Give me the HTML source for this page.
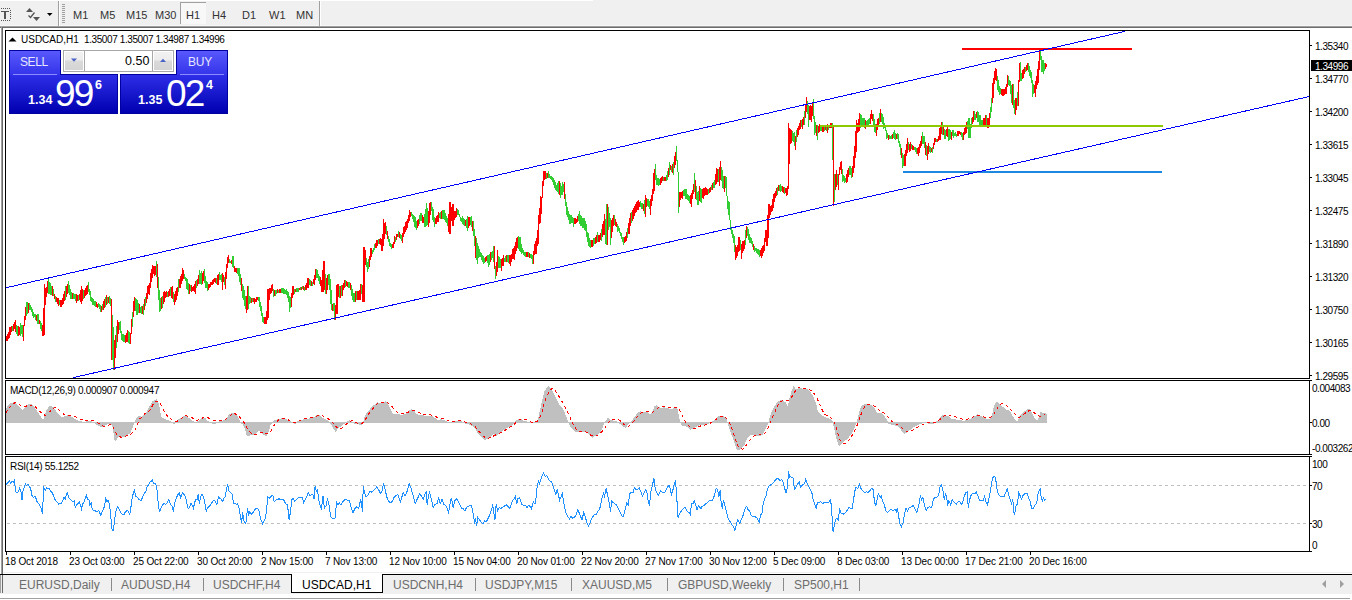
<!DOCTYPE html><html><head><meta charset="utf-8"><style>
*{margin:0;padding:0;box-sizing:border-box}
body{width:1352px;height:600px;overflow:hidden;background:#fff;position:relative;font-family:"Liberation Sans",sans-serif;color:#000}
.a{position:absolute;white-space:nowrap}
.tb{font-size:11px;color:#333}
.pl{font-size:10px;letter-spacing:-0.45px;left:1315px}
.tl{font-size:10px;letter-spacing:-0.15px;top:556px}
.tab{font-size:12px;color:#6d6d6d;top:578px}
.sep{position:absolute;width:1px;background:#8a8a8a}
</style></head><body>
<div class="a" style="left:0;top:0;width:1352px;height:26px;background:#f0f0f0"></div>
<div class="a" style="left:0;top:0;width:593px;height:1px;background:#fff"></div>
<div class="a" style="left:0;top:25px;width:1352px;height:1px;background:#f6f6f6"></div>
<div class="a" style="left:0;top:26px;width:1352px;height:1px;background:#a0a0a0"></div>
<div class="a" style="left:0;top:27px;width:1352px;height:1px;background:#6d6d6d"></div>
<div class="a" style="left:1px;top:27px;width:1px;height:547px;background:#a0a0a0"></div>
<div class="a" style="left:2px;top:27px;width:1px;height:547px;background:#696969"></div>
<svg class="a" style="left:0;top:0" width="60" height="26">
<g fill="#555"><rect x="1" y="8" width="1" height="1"/><rect x="3" y="8" width="1" height="1"/><rect x="5" y="8" width="1" height="1"/><rect x="7" y="8" width="1" height="1"/><rect x="9" y="8" width="1" height="1"/>
<rect x="1" y="20" width="1" height="1"/><rect x="3" y="20" width="1" height="1"/><rect x="5" y="20" width="1" height="1"/><rect x="7" y="20" width="1" height="1"/><rect x="9" y="20" width="1" height="1"/>
<rect x="10" y="10" width="1" height="1"/><rect x="10" y="12" width="1" height="1"/><rect x="10" y="14" width="1" height="1"/><rect x="10" y="16" width="1" height="1"/><rect x="10" y="18" width="1" height="1"/>
<rect x="1" y="11" width="8" height="1"/><rect x="4" y="11" width="2" height="8"/>
<path d="M29.5 8L33 12H26z"/><path d="M33 17H40L36.5 21z"/></g>
<path d="M28.5 15.5L30.5 17.5L34.5 12.5" stroke="#555" stroke-width="1.3" fill="none"/>
<path d="M47 13H52.5L49.7 16z" fill="#000"/>
<rect x="58" y="1" width="1" height="25" fill="#a0a0a0"/><rect x="59" y="1" width="1" height="25" fill="#fff"/>
<g fill="#999"><rect x="62" y="4" width="3" height="1"/></g>
</svg>
<svg class="a" style="left:62px;top:0" width="4" height="26"><g fill="#a0a0a0"><rect x="0" y="4" width="3" height="1"/><rect x="0" y="6" width="3" height="1"/><rect x="0" y="8" width="3" height="1"/><rect x="0" y="10" width="3" height="1"/><rect x="0" y="12" width="3" height="1"/><rect x="0" y="14" width="3" height="1"/><rect x="0" y="16" width="3" height="1"/><rect x="0" y="18" width="3" height="1"/><rect x="0" y="20" width="3" height="1"/><rect x="0" y="22" width="3" height="1"/></g></svg>
<div class="a" style="left:180px;top:2px;width:26px;height:22px;border-top:1px solid #a0a0a0;border-left:1px solid #a0a0a0;background:#f8f8f8"></div>
<div class="a tb" style="left:73px;top:9px">M1</div>
<div class="a tb" style="left:100px;top:9px">M5</div>
<div class="a tb" style="left:126px;top:9px">M15</div>
<div class="a tb" style="left:155px;top:9px">M30</div>
<div class="a tb" style="left:186px;top:9px">H1</div>
<div class="a tb" style="left:212px;top:9px">H4</div>
<div class="a tb" style="left:242px;top:9px">D1</div>
<div class="a tb" style="left:269px;top:9px">W1</div>
<div class="a tb" style="left:296px;top:9px">MN</div>
<div class="a" style="left:319px;top:1px;width:1px;height:25px;background:#a0a0a0"></div>
<div class="a" style="left:320px;top:1px;width:1px;height:25px;background:#fff"></div>
<svg class="a" style="left:0;top:0" width="1352" height="600"><g fill="none" stroke="#000" stroke-width="1" shape-rendering="crispEdges">
<rect x="5.5" y="30.5" width="1304" height="348"/>
<rect x="5.5" y="380.5" width="1304" height="74"/>
<rect x="5.5" y="456.5" width="1304" height="95"/>
</g>
<path d="M12.5 326V331M16.5 325V334M17.5 326V336M20.5 323V336M21.5 325V334M22.5 325V337M26.5 302V316M27.5 302V314M29.5 303V310M30.5 305V310M31.5 307V312M32.5 309V316M33.5 312V318M34.5 314V317M35.5 314V320M37.5 314V324M38.5 314V324M40.5 321V329M41.5 323V331M48.5 277V294M49.5 282V294M50.5 283V295M51.5 286V295M53.5 289V296M55.5 296V302M59.5 300V305M65.5 286V300M68.5 281V293M69.5 285V295M70.5 289V299M71.5 292V299M73.5 293V299M74.5 294V299M75.5 294V301M78.5 295V301M83.5 290V299M88.5 282V292M89.5 289V295M90.5 291V301M91.5 297V302M92.5 298V305M93.5 299V305M94.5 301V306M95.5 301V307M98.5 303V307M99.5 304V309M100.5 305V312M102.5 304V310M105.5 297V307M107.5 297V304M109.5 296V304M110.5 298V306M112.5 315V360M113.5 327V370M116.5 326V348M119.5 322V330M120.5 321V333M121.5 331V340M122.5 334V341M123.5 334V342M124.5 335V342M128.5 331V343M129.5 332V344M132.5 312V327M135.5 298V311M136.5 299V315M137.5 300V315M138.5 303V313M140.5 307V313M141.5 306V314M143.5 304V315M145.5 297V306M156.5 261V277M158.5 277V300M159.5 290V312M160.5 298V311M162.5 296V308M167.5 292V297M170.5 287V296M173.5 292V302M178.5 279V292M184.5 274V279M185.5 277V281M186.5 278V289M187.5 279V290M188.5 283V294M190.5 285V291M196.5 280V288M199.5 270V284M200.5 273V284M201.5 271V285M204.5 269V283M205.5 276V288M206.5 281V288M207.5 282V291M216.5 278V284M219.5 272V280M220.5 275V280M221.5 274V282M224.5 277V285M229.5 259V263M230.5 261V263M232.5 256V267M233.5 256V268M237.5 268V274M238.5 268V276M239.5 268V282M240.5 274V285M242.5 284V298M243.5 286V300M244.5 290V306M245.5 296V309M248.5 286V309M249.5 296V304M250.5 297V303M252.5 298V302M258.5 297V301M259.5 297V307M260.5 302V311M261.5 306V316M262.5 313V322M263.5 317V323M273.5 289V297M275.5 290V296M276.5 290V294M278.5 290V293M281.5 288V293M282.5 288V293M283.5 288V294M284.5 289V294M285.5 290V294M286.5 289V295M287.5 291V298M288.5 292V302M289.5 296V312M290.5 297V308M294.5 289V294M296.5 288V292M297.5 288V292M298.5 288V292M300.5 287V290M302.5 286V289M304.5 287V291M309.5 279V285M310.5 280V286M312.5 282V286M316.5 269V278M317.5 270V278M318.5 274V281M319.5 276V284M325.5 274V294M328.5 274V285M329.5 274V290M330.5 279V304M331.5 290V310M333.5 303V311M334.5 303V320M339.5 286V298M341.5 285V296M345.5 280V287M348.5 282V288M349.5 282V288M351.5 285V296M352.5 289V300M353.5 293V302M354.5 293V302M356.5 291V300M361.5 284V294M366.5 258V267M367.5 262V272M368.5 259V269M372.5 250V254M373.5 248V252M374.5 244V250M378.5 239V244M386.5 226V235M388.5 236V242M389.5 239V246M390.5 243V247M391.5 244V249M395.5 237V242M398.5 231V237M400.5 234V239M401.5 235V241M411.5 212V216M412.5 214V219M413.5 215V222M414.5 216V227M415.5 217V228M416.5 221V230M419.5 215V224M420.5 213V221M421.5 213V221M424.5 214V227M425.5 209V227M426.5 203V226M427.5 208V225M431.5 202V211M432.5 207V220M433.5 209V222M434.5 217V227M439.5 213V218M440.5 212V219M442.5 210V219M443.5 210V219M444.5 210V220M445.5 213V222M446.5 216V223M447.5 218V226M457.5 209V215M458.5 210V215M459.5 214V217M460.5 217V221M461.5 218V222M462.5 216V224M463.5 218V225M464.5 219V226M466.5 219V228M467.5 216V231M470.5 217V225M471.5 216V227M473.5 221V236M474.5 229V246M476.5 238V260M477.5 243V264M478.5 246V258M479.5 249V257M480.5 252V257M481.5 253V260M482.5 255V262M483.5 256V264M484.5 258V263M487.5 255V263M488.5 255V267M489.5 254V265M491.5 252V260M492.5 251V258M493.5 246V262M495.5 266V279M498.5 256V268M499.5 257V268M500.5 259V268M504.5 258V262M505.5 256V262M507.5 255V262M508.5 255V263M518.5 236V249M519.5 237V251M520.5 237V252M521.5 244V254M522.5 248V253M523.5 250V255M524.5 252V256M525.5 252V257M528.5 252V257M530.5 254V258M531.5 254V259M532.5 255V264M546.5 173V179M548.5 171V178M549.5 174V178M550.5 176V179M551.5 176V180M552.5 177V182M553.5 178V185M554.5 180V188M555.5 182V190M556.5 185V191M557.5 183V192M558.5 181V194M560.5 183V198M561.5 186V195M562.5 182V195M563.5 184V192M565.5 194V206M566.5 202V215M567.5 207V217M568.5 211V220M569.5 214V224M570.5 215V224M571.5 215V223M572.5 217V223M573.5 218V227M578.5 214V221M579.5 211V224M580.5 215V226M581.5 216V226M582.5 218V228M583.5 218V228M584.5 218V230M585.5 221V231M586.5 224V237M587.5 232V242M588.5 233V246M589.5 238V247M590.5 240V248M593.5 238V246M594.5 238V244M597.5 232V242M601.5 229V241M605.5 219V244M606.5 204V245M608.5 207V230M609.5 213V227M610.5 218V245M614.5 215V225M617.5 224V232M618.5 226V231M619.5 228V233M620.5 232V236M621.5 233V239M622.5 237V242M623.5 237V245M627.5 228V238M631.5 212V223M640.5 201V207M641.5 203V209M642.5 203V209M644.5 200V214M647.5 199V206M648.5 199V207M649.5 201V209M655.5 164V180M656.5 175V185M657.5 178V185M658.5 178V186M659.5 179V185M663.5 177V181M666.5 175V181M667.5 171V180M669.5 162V175M671.5 166V172M673.5 162V175M676.5 146V161M677.5 160V172M678.5 172V213M683.5 190V196M684.5 189V196M685.5 189V199M686.5 189V199M687.5 194V200M688.5 195V201M689.5 196V203M694.5 173V192M696.5 186V200M697.5 192V205M698.5 191V205M700.5 188V202M701.5 189V203M708.5 189V194M711.5 185V190M713.5 182V188M714.5 180V188M718.5 169V182M721.5 167V181M722.5 170V188M723.5 176V189M725.5 176V188M726.5 177V196M727.5 196V209M728.5 201V215M729.5 202V220M730.5 220V230M731.5 227V234M732.5 230V238M733.5 234V243M734.5 236V252M740.5 240V250M745.5 230V245M747.5 227V236M748.5 229V240M749.5 234V243M750.5 237V243M751.5 238V244M752.5 241V247M754.5 246V252M755.5 248V251M756.5 248V253M757.5 249V254M758.5 249V255M759.5 250V257M777.5 187V195M779.5 185V191M780.5 184V192M781.5 186V191M784.5 187V194M792.5 131V141M793.5 133V142M794.5 132V146M796.5 130V142M801.5 120V127M804.5 111V125M807.5 101V114M808.5 105V127M813.5 99V119M814.5 116V135M815.5 122V133M817.5 125V140M820.5 126V131M821.5 126V131M824.5 125V131M826.5 125V131M828.5 125V130M832.5 123V160M834.5 174V202M837.5 174V185M842.5 169V182M843.5 175V181M844.5 176V183M845.5 178V182M849.5 166V175M850.5 166V175M851.5 168V178M860.5 114V128M861.5 115V125M862.5 118V127M863.5 118V125M864.5 118V128M866.5 121V127M867.5 120V126M868.5 119V125M869.5 118V124M873.5 114V126M874.5 119V132M875.5 124V133M879.5 113V124M881.5 113V122M882.5 114V124M883.5 117V129M884.5 123V128M885.5 125V131M886.5 130V139M887.5 133V138M889.5 135V139M890.5 136V139M891.5 135V139M893.5 132V138M894.5 130V139M895.5 133V140M897.5 133V139M898.5 134V143M899.5 141V147M900.5 144V155M902.5 153V168M903.5 155V166M908.5 142V150M911.5 144V149M914.5 147V150M915.5 147V152M916.5 148V154M922.5 132V144M923.5 136V144M924.5 136V148M926.5 145V156M929.5 146V152M930.5 147V153M932.5 147V153M936.5 139V142M942.5 122V135M944.5 129V139M945.5 130V139M948.5 129V141M949.5 129V140M950.5 130V139M952.5 130V136M953.5 130V138M954.5 133V136M955.5 132V136M956.5 134V137M961.5 132V137M962.5 133V140M967.5 121V129M968.5 118V138M969.5 118V138M970.5 124V138M971.5 118V128M974.5 111V120M975.5 114V120M977.5 111V122M978.5 112V122M979.5 115V125M980.5 115V125M981.5 120V125M982.5 120V125M986.5 115V125M990.5 107V118M991.5 98V112M997.5 76V90M998.5 80V92M999.5 86V95M1000.5 88V94M1008.5 76V85M1009.5 80V86M1010.5 81V94M1011.5 85V103M1013.5 84V108M1014.5 100V114M1017.5 92V106M1020.5 62V81M1021.5 73V81M1025.5 67V72M1028.5 63V72M1029.5 66V76M1030.5 70V78M1031.5 72V83M1032.5 80V97M1033.5 84V94M1040.5 50V60M1041.5 56V72M1042.5 60V72M1043.5 60V74M1044.5 63V71" stroke="#32cd32" stroke-width="1" fill="none" shape-rendering="crispEdges"/>
<path d="M6.5 336V341M7.5 334V341M8.5 332V339M9.5 327V338M10.5 327V335M11.5 326V332M13.5 324V331M14.5 322V329M15.5 320V332M18.5 326V336M19.5 327V335M23.5 325V341M24.5 316V326M25.5 307V320M28.5 303V313M36.5 315V321M39.5 320V324M42.5 325V336M43.5 308V336M44.5 284V335M45.5 288V305M46.5 287V297M47.5 281V293M52.5 286V296M54.5 294V299M56.5 297V302M57.5 298V304M58.5 298V306M60.5 300V307M61.5 300V307M62.5 298V305M63.5 294V304M64.5 291V301M66.5 286V297M67.5 284V294M72.5 293V299M76.5 294V303M77.5 295V301M79.5 294V300M80.5 290V302M81.5 286V304M82.5 289V301M84.5 290V298M85.5 288V296M86.5 286V295M87.5 285V294M96.5 302V307M97.5 304V308M101.5 306V312M103.5 301V310M104.5 299V308M106.5 295V305M108.5 297V303M111.5 299V360M114.5 340V370M115.5 335V358M117.5 320V342M118.5 322V334M125.5 335V343M126.5 333V342M127.5 330V342M130.5 333V344M131.5 319V334M133.5 301V317M134.5 297V311M139.5 304V313M142.5 306V314M144.5 299V310M146.5 293V303M147.5 286V299M148.5 285V294M149.5 283V295M150.5 273V288M151.5 269V282M152.5 265V278M153.5 266V274M154.5 266V276M155.5 266V275M157.5 264V288M161.5 297V309M163.5 292V304M164.5 291V302M165.5 292V298M166.5 291V297M168.5 291V297M169.5 289V296M171.5 287V298M172.5 286V299M174.5 294V305M175.5 291V302M176.5 288V300M177.5 287V296M179.5 279V288M180.5 276V288M181.5 274V284M182.5 268V281M183.5 270V279M189.5 284V294M191.5 285V292M192.5 287V291M193.5 286V291M194.5 284V292M195.5 281V294M197.5 279V286M198.5 275V284M202.5 273V284M203.5 271V281M208.5 284V290M209.5 284V288M210.5 282V287M211.5 282V285M212.5 280V285M213.5 279V284M214.5 278V282M215.5 278V283M217.5 275V285M218.5 274V285M222.5 273V290M223.5 275V282M225.5 272V289M226.5 264V279M227.5 257V268M228.5 255V263M231.5 260V264M234.5 266V272M235.5 268V272M236.5 268V273M241.5 278V291M246.5 296V313M247.5 286V310M251.5 298V303M253.5 298V302M254.5 298V304M255.5 299V302M256.5 297V302M257.5 297V300M264.5 317V324M265.5 317V324M266.5 311V324M267.5 289V320M268.5 289V318M269.5 288V300M270.5 288V294M271.5 285V293M272.5 284V291M274.5 290V296M277.5 289V293M279.5 289V293M280.5 289V293M291.5 293V307M292.5 286V298M293.5 286V295M295.5 289V292M299.5 288V290M301.5 287V290M303.5 286V290M305.5 285V290M306.5 283V290M307.5 278V288M308.5 278V288M311.5 281V286M313.5 279V284M314.5 275V285M315.5 269V280M320.5 277V286M321.5 280V292M322.5 270V292M323.5 261V292M324.5 261V290M326.5 278V294M327.5 275V290M332.5 304V311M335.5 305V320M336.5 285V314M337.5 284V314M338.5 284V297M340.5 286V298M342.5 285V296M343.5 283V290M344.5 280V288M346.5 281V286M347.5 282V287M350.5 283V290M355.5 291V302M357.5 291V300M358.5 291V300M359.5 290V300M360.5 284V300M362.5 285V302M363.5 247V302M364.5 247V302M365.5 250V265M369.5 256V267M370.5 248V260M371.5 248V257M375.5 243V248M376.5 240V248M377.5 240V246M379.5 239V244M380.5 238V245M381.5 239V251M382.5 234V251M383.5 219V246M384.5 223V239M385.5 222V234M387.5 231V239M392.5 244V248M393.5 242V248M394.5 236V244M396.5 234V240M397.5 234V237M399.5 232V238M402.5 233V243M403.5 227V237M404.5 226V234M405.5 222V232M406.5 221V230M407.5 219V228M408.5 215V223M409.5 210V221M410.5 212V217M417.5 220V228M418.5 219V226M422.5 215V223M423.5 217V223M428.5 211V227M429.5 203V223M430.5 202V215M435.5 218V224M436.5 216V224M437.5 215V222M438.5 212V222M441.5 211V219M448.5 214V232M449.5 202V234M450.5 202V234M451.5 207V221M452.5 204V226M453.5 204V226M454.5 211V220M455.5 211V218M456.5 208V217M465.5 220V226M468.5 217V228M469.5 217V226M472.5 221V231M475.5 236V258M485.5 257V262M486.5 256V261M490.5 252V262M494.5 246V269M496.5 262V276M497.5 250V272M501.5 259V271M502.5 258V266M503.5 255V266M506.5 255V262M509.5 255V264M510.5 255V266M511.5 254V262M512.5 249V259M513.5 248V259M514.5 246V260M515.5 242V254M516.5 238V251M517.5 237V248M526.5 252V257M527.5 252V257M529.5 253V258M533.5 251V264M534.5 244V255M535.5 241V254M536.5 238V254M537.5 230V246M538.5 215V244M539.5 208V224M540.5 196V223M541.5 197V214M542.5 181V198M543.5 171V186M544.5 171V180M545.5 171V179M547.5 173V178M559.5 181V195M564.5 182V199M574.5 218V224M575.5 218V224M576.5 219V223M577.5 216V222M591.5 240V247M592.5 240V247M595.5 237V244M596.5 235V243M598.5 235V242M599.5 235V242M600.5 233V240M602.5 224V237M603.5 221V235M604.5 214V235M607.5 204V245M611.5 220V238M612.5 218V232M613.5 215V226M615.5 219V226M616.5 222V227M624.5 237V243M625.5 236V242M626.5 232V241M628.5 223V234M629.5 218V234M630.5 213V226M632.5 210V221M633.5 208V219M634.5 206V216M635.5 204V213M636.5 202V212M637.5 201V210M638.5 200V210M639.5 202V207M643.5 204V211M645.5 195V217M646.5 198V207M650.5 199V215M651.5 195V206M652.5 189V201M653.5 173V194M654.5 169V191M660.5 178V185M661.5 177V183M662.5 176V181M664.5 177V181M665.5 177V181M668.5 168V177M670.5 165V170M672.5 164V173M674.5 156V168M675.5 152V165M679.5 192V207M680.5 192V200M681.5 192V198M682.5 191V199M690.5 195V204M691.5 193V207M692.5 190V199M693.5 184V194M695.5 180V199M699.5 186V201M702.5 189V198M703.5 188V199M704.5 188V196M705.5 187V195M706.5 188V195M707.5 189V195M709.5 188V193M710.5 187V192M712.5 183V190M715.5 174V185M716.5 168V184M717.5 169V182M719.5 167V186M720.5 161V180M724.5 176V192M735.5 245V260M736.5 247V258M737.5 245V256M738.5 237V252M739.5 237V251M741.5 244V259M742.5 241V253M743.5 241V251M744.5 240V249M746.5 226V238M753.5 244V250M760.5 250V256M761.5 248V258M762.5 246V256M763.5 245V253M764.5 238V251M765.5 230V242M766.5 230V246M767.5 215V246M768.5 204V238M769.5 204V218M770.5 206V215M771.5 205V212M772.5 199V211M773.5 194V208M774.5 193V202M775.5 191V198M776.5 188V196M778.5 185V191M782.5 186V192M783.5 187V193M785.5 188V193M786.5 188V196M787.5 186V195M788.5 123V189M789.5 128V164M790.5 129V144M791.5 130V143M795.5 136V150M797.5 128V137M798.5 126V135M799.5 123V130M800.5 120V129M802.5 119V129M803.5 117V125M805.5 104V118M806.5 97V112M809.5 106V120M810.5 105V120M811.5 106V122M812.5 102V116M816.5 125V136M818.5 126V133M819.5 124V132M822.5 126V132M823.5 127V132M825.5 126V130M827.5 124V133M829.5 125V128M830.5 123V128M831.5 123V128M833.5 125V206M835.5 174V190M836.5 170V187M838.5 174V190M839.5 167V175M840.5 162V170M841.5 161V174M846.5 174V183M847.5 170V182M848.5 168V177M852.5 166V177M853.5 156V173M854.5 146V168M855.5 131V158M856.5 120V152M857.5 123V133M858.5 119V132M859.5 113V131M865.5 120V129M870.5 114V124M871.5 110V119M872.5 114V121M876.5 124V136M877.5 119V130M878.5 118V126M880.5 109V122M888.5 135V140M892.5 134V139M896.5 134V139M901.5 148V158M904.5 154V166M905.5 150V166M906.5 144V156M907.5 138V153M909.5 144V152M910.5 142V151M912.5 145V150M913.5 146V150M917.5 148V154M918.5 147V156M919.5 144V153M920.5 141V148M921.5 136V146M925.5 142V155M927.5 146V160M928.5 143V154M931.5 148V152M933.5 143V149M934.5 138V145M935.5 138V142M937.5 139V142M938.5 136V141M939.5 128V140M940.5 127V140M941.5 122V134M943.5 127V135M946.5 129V136M947.5 127V137M951.5 132V140M957.5 131V136M958.5 131V136M959.5 131V134M960.5 132V135M963.5 132V140M964.5 128V135M965.5 125V134M966.5 122V133M972.5 117V124M973.5 111V122M976.5 112V118M983.5 118V125M984.5 118V125M985.5 115V125M987.5 118V128M988.5 118V128M989.5 113V126M992.5 83V103M993.5 78V98M994.5 71V84M995.5 68V80M996.5 69V81M1001.5 89V95M1002.5 89V96M1003.5 89V96M1004.5 89V95M1005.5 87V94M1006.5 84V94M1007.5 75V87M1012.5 84V105M1015.5 98V115M1016.5 98V110M1018.5 80V106M1019.5 63V82M1022.5 70V79M1023.5 69V78M1024.5 67V74M1026.5 65V71M1027.5 63V70M1034.5 85V93M1035.5 81V97M1036.5 76V89M1037.5 69V85M1038.5 61V83M1039.5 51V70M1045.5 63V69M1046.5 64V67" stroke="#ff0000" stroke-width="1" fill="none" shape-rendering="crispEdges"/>
<rect x="962" y="48" width="170" height="2" fill="#ff0000"/>
<rect x="820" y="125" width="343" height="2" fill="#8ec800"/>
<rect x="903" y="171" width="259" height="2" fill="#1e88e0"/>
<g stroke="#0000ff" stroke-width="1" shape-rendering="crispEdges">
<line x1="6" y1="287.75" x2="1124.5" y2="31.45"/>
<line x1="73.3" y1="377.6" x2="1308.7" y2="96.65"/>
</g>
<path d="M6.5 408V423M7.5 406V423M8.5 405V423M9.5 404V423M10.5 403V423M11.5 403V423M12.5 403V423M13.5 402V423M14.5 402V423M15.5 403V423M16.5 404V423M17.5 405V423M18.5 406V423M19.5 407V423M20.5 408V423M21.5 409V423M22.5 410V423M23.5 409V423M24.5 408V423M25.5 407V423M26.5 406V423M27.5 405V423M28.5 404V423M29.5 404V423M30.5 404V423M31.5 404V423M32.5 405V423M33.5 406V423M34.5 407V423M35.5 409V423M36.5 410V423M37.5 412V423M38.5 413V423M39.5 415V423M40.5 416V423M41.5 418V423M42.5 419V423M43.5 419V423M44.5 415V423M45.5 413V423M46.5 410V423M47.5 409V423M48.5 407V423M49.5 406V423M50.5 406V423M51.5 406V423M52.5 407V423M53.5 407V423M54.5 409V423M55.5 410V423M56.5 412V423M57.5 413V423M58.5 414V423M59.5 415V423M60.5 416V423M61.5 417V423M62.5 417V423M63.5 417V423M64.5 416V423M65.5 416V423M66.5 416V423M67.5 415V423M68.5 415V423M69.5 416V423M70.5 416V423M71.5 417V423M72.5 417V423M73.5 418V423M74.5 419V423M75.5 419V423M76.5 420V423M77.5 420V423M78.5 421V423M79.5 421V423M80.5 421V423M81.5 421V423M82.5 422V423M83.5 422V423M84.5 422V423M85.5 422V423M86.5 421V423M87.5 421V423M88.5 421V423M89.5 421V423M90.5 421V423M91.5 421V423M92.5 422V423M93.5 422V423M94.5 422V423M95.5 422V424M96.5 422V425M97.5 422V425M98.5 422V426M99.5 422V426M100.5 422V427M101.5 422V427M102.5 422V427M103.5 422V426M104.5 422V426M105.5 422V425M106.5 422V425M107.5 422V424M108.5 422V424M109.5 422V424M110.5 422V424M111.5 422V425M112.5 422V427M113.5 422V433M114.5 422V440M115.5 422V441M116.5 422V440M117.5 422V438M118.5 422V437M119.5 422V437M120.5 422V437M121.5 422V437M122.5 422V437M123.5 422V437M124.5 422V437M125.5 422V436M126.5 422V435M127.5 422V435M128.5 422V434M129.5 422V434M130.5 422V433M131.5 422V430M132.5 422V428M133.5 422V425M134.5 422V423M135.5 420V423M136.5 418V423M137.5 417V423M138.5 416V423M139.5 416V423M140.5 416V423M141.5 417V423M142.5 416V423M143.5 415V423M144.5 414V423M145.5 413V423M146.5 412V423M147.5 410V423M148.5 408V423M149.5 406V423M150.5 405V423M151.5 403V423M152.5 401V423M153.5 401V423M154.5 400V423M155.5 400V423M156.5 399V423M157.5 401V423M158.5 403V423M159.5 407V423M160.5 413V423M161.5 417V423M162.5 418V423M163.5 418V423M164.5 419V423M165.5 419V423M166.5 420V423M167.5 420V423M168.5 420V423M169.5 421V423M170.5 421V423M171.5 422V423M172.5 422V423M173.5 422V424M174.5 422V424M175.5 422V423M176.5 422V423M177.5 421V423M178.5 419V423M179.5 419V423M180.5 418V423M181.5 418V423M182.5 417V423M183.5 416V423M184.5 416V423M185.5 416V423M186.5 416V423M187.5 417V423M188.5 418V423M189.5 418V423M190.5 419V423M191.5 420V423M192.5 421V423M193.5 421V423M194.5 422V423M195.5 422V423M196.5 422V423M197.5 421V423M198.5 421V423M199.5 420V423M200.5 419V423M201.5 418V423M202.5 418V423M203.5 417V423M204.5 418V423M205.5 418V423M206.5 420V423M207.5 421V423M208.5 421V423M209.5 422V423M210.5 422V423M211.5 422V423M212.5 422V424M213.5 422V424M214.5 422V424M215.5 422V424M216.5 422V423M217.5 422V423M218.5 422V423M219.5 421V423M220.5 421V423M221.5 421V423M222.5 421V423M223.5 420V423M224.5 420V423M225.5 419V423M226.5 418V423M227.5 417V423M228.5 415V423M229.5 414V423M230.5 414V423M231.5 413V423M232.5 413V423M233.5 413V423M234.5 413V423M235.5 414V423M236.5 415V423M237.5 416V423M238.5 418V423M239.5 420V423M240.5 422V423M241.5 422V424M242.5 422V424M243.5 422V426M244.5 422V428M245.5 422V431M246.5 422V435M247.5 422V436M248.5 422V436M249.5 422V436M250.5 422V435M251.5 422V435M252.5 422V435M253.5 422V435M254.5 422V435M255.5 422V434M256.5 422V433M257.5 422V432M258.5 422V431M259.5 422V431M260.5 422V432M261.5 422V433M262.5 422V434M263.5 422V435M264.5 422V435M265.5 422V436M266.5 422V436M267.5 422V434M268.5 422V432M269.5 422V429M270.5 422V425M271.5 422V424M272.5 422V423M273.5 421V423M274.5 420V423M275.5 420V423M276.5 420V423M277.5 419V423M278.5 419V423M279.5 419V423M280.5 419V423M281.5 418V423M282.5 418V423M283.5 418V423M284.5 418V423M285.5 419V423M286.5 419V423M287.5 420V423M288.5 420V423M289.5 421V423M290.5 421V423M291.5 422V423M292.5 422V423M293.5 422V423M294.5 422V424M295.5 422V424M296.5 422V423M297.5 421V423M298.5 421V423M299.5 420V423M300.5 420V423M301.5 420V423M302.5 420V423M303.5 419V423M304.5 419V423M305.5 419V423M306.5 419V423M307.5 419V423M308.5 419V423M309.5 418V423M310.5 418V423M311.5 418V423M312.5 417V423M313.5 417V423M314.5 417V423M315.5 416V423M316.5 415V423M317.5 415V423M318.5 415V423M319.5 415V423M320.5 416V423M321.5 417V423M322.5 418V423M323.5 418V423M324.5 419V423M325.5 419V423M326.5 420V423M327.5 420V423M328.5 421V423M329.5 422V423M330.5 422V424M331.5 422V425M332.5 422V427M333.5 422V429M334.5 422V430M335.5 422V432M336.5 422V431M337.5 422V429M338.5 422V428M339.5 422V427M340.5 422V427M341.5 422V426M342.5 422V425M343.5 422V424M344.5 422V424M345.5 422V423M346.5 422V423M347.5 421V423M348.5 421V423M349.5 420V423M350.5 421V423M351.5 421V423M352.5 422V423M353.5 422V423M354.5 422V424M355.5 422V424M356.5 422V424M357.5 422V424M358.5 422V424M359.5 422V425M360.5 422V425M361.5 422V425M362.5 422V424M363.5 421V423M364.5 417V423M365.5 415V423M366.5 413V423M367.5 412V423M368.5 411V423M369.5 410V423M370.5 408V423M371.5 407V423M372.5 406V423M373.5 405V423M374.5 405V423M375.5 404V423M376.5 403V423M377.5 402V423M378.5 403V423M379.5 403V423M380.5 403V423M381.5 403V423M382.5 403V423M383.5 403V423M384.5 402V423M385.5 401V423M386.5 402V423M387.5 403V423M388.5 405V423M389.5 407V423M390.5 409V423M391.5 411V423M392.5 413V423M393.5 414V423M394.5 414V423M395.5 414V423M396.5 414V423M397.5 414V423M398.5 414V423M399.5 414V423M400.5 415V423M401.5 415V423M402.5 415V423M403.5 414V423M404.5 414V423M405.5 414V423M406.5 413V423M407.5 412V423M408.5 411V423M409.5 410V423M410.5 410V423M411.5 409V423M412.5 410V423M413.5 411V423M414.5 411V423M415.5 413V423M416.5 414V423M417.5 414V423M418.5 415V423M419.5 415V423M420.5 415V423M421.5 415V423M422.5 415V423M423.5 415V423M424.5 416V423M425.5 416V423M426.5 416V423M427.5 416V423M428.5 416V423M429.5 416V423M430.5 416V423M431.5 416V423M432.5 416V423M433.5 417V423M434.5 418V423M435.5 418V423M436.5 419V423M437.5 420V423M438.5 420V423M439.5 420V423M440.5 419V423M441.5 419V423M442.5 420V423M443.5 420V423M444.5 420V423M445.5 421V423M446.5 421V423M447.5 422V423M448.5 422V423M449.5 422V423M450.5 422V423M451.5 422V423M452.5 422V423M453.5 422V423M454.5 422V423M455.5 421V423M456.5 421V423M457.5 421V423M458.5 421V423M459.5 421V423M460.5 421V423M461.5 421V423M462.5 422V423M463.5 422V423M464.5 422V423M465.5 422V424M466.5 422V424M467.5 422V424M468.5 422V424M469.5 422V425M470.5 422V425M471.5 422V426M472.5 422V426M473.5 422V427M474.5 422V428M475.5 422V429M476.5 422V431M477.5 422V433M478.5 422V434M479.5 422V435M480.5 422V436M481.5 422V437M482.5 422V438M483.5 422V439M484.5 422V440M485.5 422V440M486.5 422V439M487.5 422V439M488.5 422V438M489.5 422V438M490.5 422V437M491.5 422V436M492.5 422V435M493.5 422V434M494.5 422V435M495.5 422V436M496.5 422V436M497.5 422V435M498.5 422V434M499.5 422V433M500.5 422V433M501.5 422V432M502.5 422V431M503.5 422V430M504.5 422V430M505.5 422V429M506.5 422V428M507.5 422V428M508.5 422V427M509.5 422V427M510.5 422V426M511.5 422V426M512.5 422V425M513.5 422V424M514.5 422V423M515.5 421V423M516.5 420V423M517.5 420V423M518.5 419V423M519.5 419V423M520.5 419V423M521.5 419V423M522.5 420V423M523.5 421V423M524.5 421V423M525.5 421V423M526.5 421V423M527.5 422V423M528.5 422V423M529.5 422V423M530.5 422V423M531.5 422V423M532.5 422V423M533.5 422V423M534.5 422V423M535.5 422V423M536.5 422V423M537.5 420V423M538.5 417V423M539.5 412V423M540.5 408V423M541.5 403V423M542.5 399V423M543.5 395V423M544.5 391V423M545.5 390V423M546.5 388V423M547.5 387V423M548.5 386V423M549.5 387V423M550.5 388V423M551.5 389V423M552.5 391V423M553.5 393V423M554.5 395V423M555.5 397V423M556.5 399V423M557.5 401V423M558.5 403V423M559.5 405V423M560.5 406V423M561.5 407V423M562.5 408V423M563.5 410V423M564.5 412V423M565.5 415V423M566.5 417V423M567.5 420V423M568.5 422V423M569.5 422V425M570.5 422V427M571.5 422V428M572.5 422V429M573.5 422V430M574.5 422V431M575.5 422V432M576.5 422V432M577.5 422V432M578.5 422V432M579.5 422V432M580.5 422V432M581.5 422V432M582.5 422V432M583.5 422V432M584.5 422V432M585.5 422V432M586.5 422V433M587.5 422V433M588.5 422V434M589.5 422V435M590.5 422V436M591.5 422V437M592.5 422V438M593.5 422V437M594.5 422V436M595.5 422V436M596.5 422V435M597.5 422V435M598.5 422V434M599.5 422V433M600.5 422V432M601.5 422V430M602.5 422V428M603.5 422V425M604.5 422V423M605.5 421V423M606.5 420V423M607.5 418V423M608.5 418V423M609.5 419V423M610.5 420V423M611.5 420V423M612.5 420V423M613.5 421V423M614.5 421V423M615.5 421V423M616.5 421V423M617.5 422V423M618.5 422V423M619.5 422V424M620.5 422V424M621.5 422V425M622.5 422V426M623.5 422V427M624.5 422V427M625.5 422V428M626.5 422V427M627.5 422V425M628.5 422V424M629.5 422V423M630.5 422V423M631.5 421V423M632.5 420V423M633.5 418V423M634.5 417V423M635.5 416V423M636.5 414V423M637.5 413V423M638.5 412V423M639.5 412V423M640.5 411V423M641.5 412V423M642.5 412V423M643.5 412V423M644.5 412V423M645.5 412V423M646.5 412V423M647.5 412V423M648.5 413V423M649.5 414V423M650.5 414V423M651.5 413V423M652.5 411V423M653.5 409V423M654.5 406V423M655.5 406V423M656.5 405V423M657.5 406V423M658.5 407V423M659.5 407V423M660.5 408V423M661.5 408V423M662.5 408V423M663.5 407V423M664.5 407V423M665.5 408V423M666.5 408V423M667.5 408V423M668.5 408V423M669.5 409V423M670.5 409V423M671.5 409V423M672.5 409V423M673.5 408V423M674.5 408V423M675.5 408V423M676.5 408V423M677.5 409V423M678.5 414V423M679.5 419V423M680.5 422V423M681.5 422V425M682.5 422V426M683.5 422V426M684.5 422V426M685.5 422V426M686.5 422V427M687.5 422V427M688.5 422V428M689.5 422V429M690.5 422V430M691.5 422V429M692.5 422V429M693.5 422V429M694.5 422V428M695.5 422V427M696.5 422V427M697.5 422V426M698.5 422V426M699.5 422V425M700.5 422V425M701.5 422V425M702.5 422V425M703.5 422V425M704.5 422V425M705.5 422V424M706.5 422V424M707.5 422V424M708.5 422V424M709.5 422V423M710.5 422V423M711.5 422V423M712.5 421V423M713.5 421V423M714.5 420V423M715.5 419V423M716.5 418V423M717.5 417V423M718.5 416V423M719.5 416V423M720.5 416V423M721.5 416V423M722.5 416V423M723.5 416V423M724.5 417V423M725.5 418V423M726.5 419V423M727.5 422V423M728.5 422V426M729.5 422V429M730.5 422V432M731.5 422V435M732.5 422V437M733.5 422V440M734.5 422V443M735.5 422V446M736.5 422V449M737.5 422V450M738.5 422V450M739.5 422V450M740.5 422V449M741.5 422V448M742.5 422V447M743.5 422V446M744.5 422V445M745.5 422V442M746.5 422V440M747.5 422V438M748.5 422V437M749.5 422V436M750.5 422V435M751.5 422V435M752.5 422V435M753.5 422V435M754.5 422V435M755.5 422V436M756.5 422V436M757.5 422V436M758.5 422V436M759.5 422V436M760.5 422V436M761.5 422V435M762.5 422V435M763.5 422V433M764.5 422V431M765.5 422V429M766.5 422V427M767.5 422V425M768.5 422V423M769.5 418V423M770.5 415V423M771.5 412V423M772.5 410V423M773.5 408V423M774.5 406V423M775.5 405V423M776.5 403V423M777.5 402V423M778.5 401V423M779.5 401V423M780.5 400V423M781.5 400V423M782.5 401V423M783.5 401V423M784.5 402V423M785.5 402V423M786.5 404V423M787.5 406V423M788.5 403V423M789.5 398V423M790.5 395V423M791.5 391V423M792.5 389V423M793.5 386V423M794.5 387V423M795.5 389V423M796.5 389V423M797.5 389V423M798.5 388V423M799.5 388V423M800.5 388V423M801.5 388V423M802.5 389V423M803.5 389V423M804.5 389V423M805.5 389V423M806.5 389V423M807.5 389V423M808.5 390V423M809.5 391V423M810.5 392V423M811.5 394V423M812.5 395V423M813.5 397V423M814.5 400V423M815.5 402V423M816.5 405V423M817.5 410V423M818.5 412V423M819.5 413V423M820.5 414V423M821.5 415V423M822.5 416V423M823.5 416V423M824.5 417V423M825.5 417V423M826.5 418V423M827.5 418V423M828.5 418V423M829.5 419V423M830.5 419V423M831.5 420V423M832.5 421V423M833.5 422V426M834.5 422V430M835.5 422V435M836.5 422V439M837.5 422V442M838.5 422V445M839.5 422V446M840.5 422V445M841.5 422V444M842.5 422V443M843.5 422V442M844.5 422V441M845.5 422V440M846.5 422V440M847.5 422V439M848.5 422V438M849.5 422V436M850.5 422V435M851.5 422V434M852.5 422V432M853.5 422V430M854.5 422V428M855.5 422V425M856.5 422V423M857.5 419V423M858.5 415V423M859.5 411V423M860.5 408V423M861.5 406V423M862.5 405V423M863.5 405V423M864.5 404V423M865.5 404V423M866.5 404V423M867.5 405V423M868.5 405V423M869.5 405V423M870.5 405V423M871.5 405V423M872.5 406V423M873.5 407V423M874.5 408V423M875.5 410V423M876.5 412V423M877.5 413V423M878.5 413V423M879.5 413V423M880.5 413V423M881.5 413V423M882.5 414V423M883.5 415V423M884.5 416V423M885.5 418V423M886.5 419V423M887.5 421V423M888.5 422V424M889.5 422V424M890.5 422V424M891.5 422V425M892.5 422V425M893.5 422V425M894.5 422V425M895.5 422V426M896.5 422V426M897.5 422V426M898.5 422V427M899.5 422V428M900.5 422V429M901.5 422V431M902.5 422V432M903.5 422V433M904.5 422V434M905.5 422V433M906.5 422V433M907.5 422V432M908.5 422V431M909.5 422V430M910.5 422V430M911.5 422V429M912.5 422V428M913.5 422V427M914.5 422V427M915.5 422V426M916.5 422V426M917.5 422V425M918.5 422V425M919.5 422V424M920.5 422V424M921.5 422V424M922.5 422V423M923.5 422V423M924.5 422V423M925.5 422V423M926.5 422V423M927.5 422V423M928.5 422V424M929.5 422V424M930.5 422V424M931.5 422V424M932.5 422V424M933.5 422V424M934.5 422V423M935.5 422V423M936.5 421V423M937.5 421V423M938.5 420V423M939.5 418V423M940.5 417V423M941.5 416V423M942.5 415V423M943.5 415V423M944.5 415V423M945.5 415V423M946.5 416V423M947.5 416V423M948.5 416V423M949.5 417V423M950.5 418V423M951.5 419V423M952.5 419V423M953.5 419V423M954.5 419V423M955.5 419V423M956.5 420V423M957.5 420V423M958.5 420V423M959.5 420V423M960.5 420V423M961.5 420V423M962.5 421V423M963.5 421V423M964.5 421V423M965.5 420V423M966.5 420V423M967.5 420V423M968.5 420V423M969.5 419V423M970.5 419V423M971.5 418V423M972.5 417V423M973.5 417V423M974.5 416V423M975.5 416V423M976.5 415V423M977.5 414V423M978.5 415V423M979.5 415V423M980.5 416V423M981.5 416V423M982.5 417V423M983.5 417V423M984.5 418V423M985.5 418V423M986.5 419V423M987.5 419V423M988.5 419V423M989.5 419V423M990.5 418V423M991.5 417V423M992.5 413V423M993.5 408V423M994.5 405V423M995.5 403V423M996.5 402V423M997.5 402V423M998.5 403V423M999.5 404V423M1000.5 405V423M1001.5 406V423M1002.5 407V423M1003.5 407V423M1004.5 408V423M1005.5 409V423M1006.5 410V423M1007.5 410V423M1008.5 410V423M1009.5 411V423M1010.5 412V423M1011.5 414V423M1012.5 416V423M1013.5 417V423M1014.5 419V423M1015.5 420V423M1016.5 421V423M1017.5 421V423M1018.5 419V423M1019.5 416V423M1020.5 415V423M1021.5 414V423M1022.5 413V423M1023.5 412V423M1024.5 411V423M1025.5 411V423M1026.5 410V423M1027.5 409V423M1028.5 409V423M1029.5 409V423M1030.5 410V423M1031.5 412V423M1032.5 414V423M1033.5 416V423M1034.5 418V423M1035.5 419V423M1036.5 420V423M1037.5 420V423M1038.5 418V423M1039.5 415V423M1040.5 412V423M1041.5 412V423M1042.5 413V423M1043.5 413V423M1044.5 413V423M1045.5 413V423M1046.5 414V423" stroke="#c0c0c0" stroke-width="1" fill="none" shape-rendering="crispEdges"/>
<polyline points="6.0,413.0 8.0,409.6 10.7,406.3 13.3,403.6 16.0,402.3 18.6,403.6 21.3,406.0 24.0,406.6 26.6,406.0 29.3,405.0 32.0,405.0 34.6,406.3 37.3,408.7 39.9,411.6 42.6,414.0 45.3,415.4 47.9,413.0 50.6,411.0 53.3,408.3 55.9,407.6 58.6,409.6 61.2,412.3 63.9,414.3 66.6,415.4 69.2,415.6 71.9,415.9 74.6,416.6 77.2,417.6 79.9,418.9 82.5,419.9 85.2,420.5 87.9,420.7 90.5,420.7 93.2,420.7 95.9,421.6 98.5,423.3 101.2,425.2 103.8,426.3 106.5,426.3 109.2,424.9 111.8,424.9 114.5,430.3 117.2,434.9 119.8,436.9 122.5,437.3 125.1,436.3 127.8,435.3 130.5,434.5 133.1,432.3 135.8,428.9 137.8,423.6 139.8,418.9 142.5,416.3 145.1,413.6 147.8,412.3 150.4,409.6 153.1,404.3 155.8,401.6 158.4,401.6 161.1,405.0 163.8,410.3 166.4,415.0 169.1,417.6 171.7,419.9 174.4,420.9 177.1,421.2 180.3,419.9 183.0,417.0 185.7,415.6 188.3,416.3 191.0,416.7 193.6,418.9 196.3,420.3 199.0,419.9 201.6,418.6 204.3,417.0 207.0,417.6 209.6,418.3 212.3,419.9 214.9,420.9 217.6,420.7 220.3,420.3 222.9,420.3 225.6,419.3 228.3,417.6 230.9,415.0 233.6,413.2 236.2,414.3 238.9,415.9 241.6,419.6 244.2,422.9 246.9,427.6 249.6,431.9 252.2,434.3 254.9,434.5 257.5,434.3 260.2,432.3 262.9,432.9 265.5,434.0 268.2,433.6 270.9,430.9 273.5,426.3 276.2,422.0 278.8,419.9 281.5,418.6 284.2,418.3 286.8,418.9 289.5,420.7 292.2,422.3 294.8,422.9 297.5,421.6 300.1,420.3 302.8,419.3 305.5,418.6 308.1,418.3 310.8,417.8 313.5,417.0 316.1,416.3 318.8,415.4 321.4,415.4 324.1,416.7 326.8,418.0 329.4,419.6 332.1,422.0 334.8,425.6 337.4,427.9 340.1,429.2 342.8,427.6 345.4,424.9 348.1,422.9 350.7,421.2 352.7,420.6 355.3,422.3 358.0,423.3 360.7,423.9 363.3,422.6 366.0,418.6 368.6,413.9 371.3,410.6 374.0,407.3 376.6,404.2 379.3,403.3 382.0,402.6 384.6,402.4 387.3,402.4 389.9,404.6 392.6,407.3 395.3,410.6 397.9,412.6 400.6,413.6 403.3,413.6 405.9,413.3 408.6,412.0 411.2,411.0 413.9,410.6 416.6,411.3 419.2,412.6 421.9,413.6 424.6,414.3 427.2,414.9 429.9,414.9 432.5,415.3 435.2,416.2 437.9,417.9 440.5,418.6 443.2,418.6 445.9,419.3 448.5,420.6 451.2,421.5 453.8,421.5 456.5,421.0 459.2,420.6 461.8,421.0 464.5,421.9 467.2,422.9 469.8,423.7 472.5,424.6 475.1,426.6 477.8,429.9 480.5,433.3 483.1,435.9 485.8,437.9 488.5,438.3 491.1,437.5 493.8,435.9 496.4,434.6 499.1,433.3 501.8,431.9 504.4,430.6 507.1,429.0 509.8,427.3 512.4,425.9 515.1,423.3 517.8,420.6 520.4,419.3 523.1,419.3 525.7,419.7 529.0,420.6 531.7,422.3 534.3,422.3 537.0,421.5 539.6,417.9 542.3,411.3 544.3,402.6 546.3,397.3 549.0,392.6 551.6,388.7 554.3,389.3 557.0,393.3 559.6,397.3 562.3,402.0 564.9,406.6 567.6,412.0 570.3,417.9 572.9,423.9 575.6,428.6 578.3,431.3 580.9,431.7 583.6,431.3 586.2,432.2 588.9,433.9 591.6,435.7 594.2,435.9 596.9,435.9 599.6,433.9 602.2,431.3 604.9,427.9 607.5,423.9 610.2,420.6 612.9,419.3 615.5,419.0 618.2,419.5 620.9,421.3 623.5,423.9 626.2,425.9 628.8,426.3 631.5,423.9 634.2,420.6 636.8,417.3 639.5,414.3 642.2,412.2 644.8,411.4 647.5,411.6 650.1,412.4 652.8,412.0 655.5,410.0 658.1,408.0 660.8,406.9 663.5,406.6 666.1,407.0 668.8,407.3 671.4,407.6 674.1,407.3 676.8,407.0 679.4,410.0 682.1,415.3 684.8,420.6 687.4,424.6 690.1,427.3 692.8,428.3 695.4,428.2 698.1,427.0 700.7,425.9 702.7,425.5 705.3,425.0 708.0,424.2 710.7,422.9 713.3,421.0 716.0,419.3 718.6,417.0 721.3,416.2 724.0,416.6 726.6,418.3 729.3,422.6 732.0,429.3 734.6,437.2 737.3,445.2 739.9,448.6 742.6,449.2 745.3,446.6 747.9,442.6 750.6,439.2 753.3,436.6 755.9,434.9 758.6,434.9 761.2,434.6 763.9,433.9 766.6,431.3 769.2,425.3 771.9,418.6 774.6,412.6 777.2,406.6 779.9,402.0 782.5,400.6 785.2,401.0 787.9,400.6 790.5,398.6 793.2,394.6 795.9,390.0 798.5,387.3 801.2,387.3 803.8,388.3 806.5,388.7 809.2,389.1 811.8,391.3 814.5,394.0 817.2,398.6 819.8,404.6 822.5,410.6 825.1,414.6 827.8,416.2 830.5,417.3 833.1,419.9 835.8,425.9 838.5,435.9 841.1,442.6 843.8,443.9 846.4,442.6 849.1,439.9 851.8,435.9 854.4,431.3 857.1,425.3 859.8,417.9 862.4,410.6 865.1,406.0 867.8,404.6 870.4,404.4 873.1,405.0 875.7,407.3 877.7,408.6 880.3,410.9 883.0,412.2 885.7,414.3 888.3,417.3 891.0,420.6 893.6,422.6 896.3,424.2 899.0,425.7 901.6,427.9 904.3,430.3 907.0,431.7 909.6,431.7 912.3,430.3 914.9,428.6 917.6,427.3 920.3,425.9 922.9,424.3 925.6,423.3 928.3,422.6 930.9,422.6 933.6,422.9 936.2,422.3 938.9,420.3 941.6,418.3 944.2,415.9 946.9,414.9 949.6,415.7 952.2,416.3 954.9,416.6 957.5,417.3 960.2,418.3 962.9,419.3 965.5,419.4 968.2,418.9 970.9,417.9 973.5,416.6 976.2,415.4 978.8,415.3 981.5,415.9 984.2,417.0 986.8,417.5 989.5,417.5 992.2,416.6 994.8,412.6 997.5,408.0 1000.1,404.2 1002.8,403.3 1005.5,404.6 1008.1,407.3 1010.8,409.6 1013.5,412.0 1016.1,415.3 1018.8,417.3 1021.4,416.6 1024.1,413.9 1026.8,412.0 1029.4,410.4 1032.1,410.9 1034.8,413.3 1037.4,415.7 1040.1,416.2 1042.8,415.3 1044.7,414.9" fill="none" stroke="#ff0000" stroke-width="1" stroke-dasharray="3 3" shape-rendering="crispEdges"/>
<g stroke="#c0c0c0" stroke-width="1" stroke-dasharray="3 3" shape-rendering="crispEdges">
<line x1="7" y1="485.5" x2="1308" y2="485.5"/>
<line x1="7" y1="523.5" x2="1308" y2="523.5"/>
</g>
<polyline points="6.0,484.3 7.3,483.6 9.3,481.0 10.7,483.0 12.0,481.6 13.3,482.3 14.4,480.3 15.3,488.3 16.2,493.0 17.3,492.3 18.6,491.6 19.7,488.3 21.0,491.6 22.0,500.3 22.9,491.6 24.0,488.3 25.3,483.6 26.6,485.6 28.0,484.3 29.3,486.3 30.6,488.3 32.0,495.6 33.3,497.6 34.9,496.3 35.9,498.3 37.5,502.9 38.6,503.6 39.9,505.6 41.3,508.9 42.3,513.6 43.3,497.0 43.9,487.6 45.3,490.3 46.6,487.6 47.9,488.3 49.3,488.3 50.6,491.0 51.9,492.3 53.3,495.0 54.6,498.9 55.9,500.9 57.5,502.5 58.6,504.3 59.9,502.9 61.2,503.6 62.6,500.9 63.9,497.0 65.2,498.9 66.6,494.0 67.6,493.0 68.6,497.6 70.6,499.6 72.6,501.6 74.3,500.7 75.2,507.6 76.6,504.9 77.9,503.6 79.5,501.6 80.5,505.6 81.5,508.9 82.5,504.3 84.5,500.9 86.3,495.0 87.6,499.6 88.9,498.9 89.9,504.9 91.2,502.9 91.9,507.6 93.2,510.3 95.2,510.9 97.2,511.6 98.5,510.3 99.9,512.9 100.5,516.3 101.8,512.3 103.2,509.6 104.5,506.3 105.6,498.3 106.9,501.6 108.5,500.3 109.4,504.3 110.2,510.9 111.2,520.9 112.1,530.2 113.2,530.2 114.2,523.6 115.6,512.9 117.2,506.9 118.8,508.3 120.5,512.3 122.5,514.3 123.8,514.9 125.1,512.3 126.5,510.9 127.8,510.9 128.9,512.9 129.8,514.3 130.7,508.9 132.1,498.3 133.4,493.0 134.5,489.6 135.5,496.3 137.1,497.0 139.1,499.6 141.1,500.3 142.5,497.6 144.1,493.6 145.8,491.6 147.1,487.0 148.4,485.0 149.8,482.3 151.1,481.6 152.4,480.3 153.8,483.6 155.1,483.6 156.4,485.6 157.4,493.0 158.4,506.3 159.8,511.6 161.1,507.6 162.7,504.9 164.0,503.6 165.8,504.3 167.1,502.9 168.8,499.6 170.4,504.3 172.0,506.3 173.3,510.3 174.7,503.6 176.0,498.9 177.7,495.0 179.3,493.0 180.6,497.6 182.3,493.0 184.3,495.0 185.7,497.6 187.0,503.6 188.3,508.9 189.6,506.9 191.0,502.9 192.3,505.6 193.4,508.3 194.7,502.3 196.0,498.9 197.0,499.6 198.3,493.6 199.4,504.3 200.6,496.3 202.3,494.3 203.6,497.0 205.0,503.6 206.3,511.6 207.6,507.6 209.6,506.3 211.6,502.9 213.6,500.3 214.9,500.9 216.9,504.9 218.3,497.0 219.6,498.3 220.9,498.9 222.7,501.6 224.0,498.3 225.3,497.0 226.3,489.6 227.6,484.3 228.9,491.0 230.7,493.0 232.2,494.3 233.6,503.6 234.9,502.9 236.2,504.3 237.6,503.6 238.9,507.6 240.2,515.6 241.6,522.9 242.6,512.3 244.0,520.9 245.8,523.6 247.6,508.3 248.5,514.9 249.6,512.3 251.6,514.3 253.6,511.6 255.5,508.9 257.5,508.3 258.9,510.9 260.9,519.6 262.6,523.6 264.2,520.9 265.5,518.3 266.9,506.3 267.8,497.0 269.5,498.3 271.1,496.3 272.9,495.0 274.2,501.6 275.5,500.3 276.8,499.6 278.8,498.9 281.5,499.3 283.5,499.3 285.5,503.6 287.5,504.9 289.2,520.3 290.6,510.3 291.9,499.6 293.2,498.3 294.8,501.6 296.2,499.6 298.2,497.6 300.1,497.0 302.5,497.6 303.5,502.9 305.2,499.6 306.8,497.0 308.1,492.3 309.5,495.0 311.1,495.0 312.8,494.3 314.1,498.9 315.1,486.3 316.4,491.6 317.5,489.6 318.8,499.6 320.1,505.6 321.4,509.6 323.0,495.6 324.4,508.3 326.1,505.6 327.4,499.6 328.8,503.6 330.8,516.9 332.1,518.3 334.1,518.3 335.4,517.6 336.4,501.6 338.1,504.9 339.4,502.9 340.8,504.9 342.5,502.3 344.1,500.3 346.1,498.9 347.4,500.9 349.1,500.3 350.7,505.6 352.9,512.9 354.7,508.9 356.7,506.9 358.7,508.3 360.7,499.6 361.7,503.6 362.4,512.3 363.3,485.6 364.6,493.0 366.0,497.0 368.0,495.0 370.0,491.0 372.0,492.3 374.0,490.3 376.6,487.0 378.6,489.6 380.4,493.6 382.0,491.0 383.6,483.0 384.9,488.3 386.6,496.3 388.3,500.9 390.2,502.9 392.3,501.6 394.2,497.0 395.9,495.6 397.7,494.3 399.0,497.6 400.3,502.3 401.9,497.0 403.3,492.3 404.9,495.6 406.6,493.0 407.9,488.3 409.2,483.6 411.0,488.3 412.6,493.6 413.9,498.9 415.2,503.6 416.6,500.3 418.2,497.0 419.5,493.6 421.2,495.6 423.2,499.6 424.6,495.0 426.2,492.3 427.2,504.9 428.3,497.0 429.5,491.6 431.2,498.3 433.2,507.6 435.2,504.3 437.2,503.6 438.5,497.6 440.3,503.6 442.1,498.9 443.9,504.3 445.9,505.6 447.5,509.6 448.5,512.3 450.1,503.6 451.4,497.6 453.2,508.3 454.5,501.6 456.2,498.3 457.8,500.9 459.8,504.3 461.6,508.3 463.2,508.9 464.8,510.9 466.5,507.6 468.2,506.3 469.8,505.6 471.4,505.6 472.5,510.3 473.6,515.6 474.5,523.6 475.4,517.6 476.5,526.2 477.8,517.6 479.8,520.3 481.8,522.9 483.1,524.2 484.7,520.9 486.5,521.6 487.8,518.9 489.1,516.3 490.5,512.3 491.8,508.9 492.7,504.3 493.8,512.9 494.9,520.3 495.8,507.6 496.4,503.6 497.5,510.9 499.1,507.6 501.1,508.3 503.1,506.9 505.1,505.6 506.8,504.9 508.4,506.9 509.8,508.3 511.1,504.3 512.7,500.3 514.4,498.3 515.4,496.3 516.7,504.3 518.0,498.3 519.7,497.6 521.7,504.3 523.7,505.3 525.7,505.3 527.0,507.6 529.0,504.9 531.4,508.9 533.3,501.6 535.0,504.3 535.9,498.9 537.0,488.3 538.3,481.0 539.6,483.6 541.6,477.0 543.4,473.0 545.0,476.3 547.0,475.7 549.0,480.3 551.4,481.6 553.0,486.3 554.6,491.0 555.9,494.3 557.2,489.6 558.6,495.6 559.6,500.3 560.9,497.0 562.3,493.6 563.6,502.3 565.6,512.3 567.6,516.3 569.6,518.9 570.9,516.3 572.9,518.3 575.6,516.3 578.0,509.6 579.6,514.3 582.0,519.6 583.8,512.3 585.6,518.3 587.3,523.6 588.6,526.2 590.2,522.2 592.2,517.6 594.2,514.9 596.2,514.9 598.2,510.9 599.6,508.9 600.6,505.6 602.2,497.0 603.6,493.6 604.6,496.3 606.2,488.3 607.5,495.0 609.1,502.3 610.5,511.6 611.8,500.9 613.5,502.9 615.8,504.3 618.2,508.3 620.2,512.3 622.2,516.3 623.5,516.3 625.1,509.6 626.8,502.9 628.2,504.9 629.8,493.6 631.5,492.3 633.1,492.3 634.4,487.6 636.2,489.6 637.9,489.0 639.2,487.6 640.8,491.6 642.4,496.3 643.8,493.6 645.5,489.6 646.8,491.6 648.6,503.6 649.5,504.9 650.8,491.6 652.5,485.0 653.9,478.3 655.2,488.3 656.8,493.0 658.4,495.0 660.5,491.0 662.8,492.3 664.8,492.3 666.4,489.6 667.7,486.3 669.5,485.6 671.4,494.3 673.0,489.6 674.4,483.0 675.4,481.0 676.5,491.6 677.2,504.9 678.1,518.3 679.4,513.6 681.4,510.9 683.4,508.3 685.4,507.6 687.4,511.6 689.4,512.9 690.4,514.9 691.4,503.6 693.0,503.6 694.3,500.9 695.7,504.9 697.0,509.6 698.7,505.6 701.0,508.9 702.0,506.3 704.0,505.6 706.0,503.6 708.0,502.3 710.0,500.3 712.0,500.9 713.3,498.3 714.6,495.0 716.2,488.3 717.6,489.6 718.9,497.0 720.2,490.3 721.3,504.9 722.4,507.6 723.3,500.3 724.6,503.6 726.0,510.3 727.3,515.6 728.6,519.6 730.4,522.2 732.0,524.9 733.6,526.9 734.9,530.2 736.2,524.9 737.9,519.6 739.7,523.6 741.3,519.6 743.3,514.9 745.3,507.6 746.6,506.3 747.9,509.6 749.5,510.9 751.3,515.6 753.3,516.9 755.3,516.9 757.2,518.3 759.2,522.2 760.6,514.9 761.9,513.6 763.2,503.6 764.6,498.9 765.9,497.0 767.2,489.6 768.6,486.3 770.6,485.0 772.6,483.6 774.6,481.0 776.6,479.0 777.9,478.3 779.9,480.3 781.9,479.6 783.2,482.3 784.5,487.6 785.9,493.0 786.8,491.0 787.9,481.0 788.5,471.0 789.5,477.0 790.5,476.3 791.9,477.6 793.2,478.3 794.5,490.3 795.6,487.6 797.2,484.3 799.2,482.3 800.5,487.0 802.5,485.0 804.5,483.6 805.8,479.0 807.2,483.6 808.5,485.6 810.2,489.6 811.8,492.3 813.4,500.9 814.8,504.3 816.1,508.3 817.4,502.9 819.2,502.3 820.9,501.6 822.5,503.6 824.5,502.3 826.5,502.3 828.1,502.9 829.8,500.9 830.7,499.6 831.8,512.9 832.5,523.6 833.1,532.2 834.2,526.2 835.5,519.6 837.1,518.3 838.5,520.3 839.5,508.3 841.1,512.9 843.1,514.3 845.1,512.9 847.1,510.3 848.8,507.6 850.4,508.3 852.0,508.9 853.4,500.9 854.7,491.6 855.8,487.6 857.8,488.3 859.5,484.3 861.4,489.6 863.1,491.0 864.8,493.0 866.4,491.6 868.0,492.3 869.7,491.0 871.7,488.3 873.1,489.6 874.4,500.9 875.7,506.3 878.3,493.6 880.1,497.6 881.4,496.3 883.0,502.3 884.3,504.9 885.9,510.9 887.6,512.3 889.6,510.3 891.2,509.6 893.0,510.3 895.0,509.6 896.3,511.6 897.4,508.3 898.7,516.9 900.0,523.6 901.4,526.9 903.0,522.9 904.3,514.9 905.9,508.3 907.6,510.9 909.3,507.6 911.2,506.9 913.3,505.6 914.9,508.9 916.9,512.9 918.7,505.6 920.3,496.3 921.6,499.6 922.9,497.6 924.5,505.6 926.3,510.3 928.0,507.6 929.6,506.9 931.6,507.6 933.3,499.6 934.9,497.0 936.9,497.0 938.6,495.0 940.2,486.3 941.6,485.0 942.9,490.3 944.2,499.6 945.6,493.6 946.9,498.9 947.6,506.3 948.9,500.3 950.6,504.9 952.2,499.6 954.2,502.3 956.2,504.3 958.2,501.6 959.9,501.6 961.8,504.9 963.5,498.9 965.5,493.0 967.3,491.6 968.2,507.6 969.5,500.3 970.9,495.6 972.9,493.0 974.9,493.6 976.2,491.6 977.8,495.6 979.5,500.3 981.5,500.3 983.1,500.9 984.4,496.3 986.2,502.3 987.5,504.9 988.8,498.9 990.2,491.6 991.5,483.6 992.8,477.6 994.2,476.3 995.5,477.6 996.8,487.6 998.2,494.3 1000.1,496.3 1002.1,496.3 1004.1,497.0 1005.7,492.3 1007.2,489.0 1008.8,495.0 1010.1,499.6 1011.5,503.6 1012.8,498.9 1013.7,510.9 1014.5,514.9 1015.9,506.3 1017.2,504.3 1018.8,493.0 1020.1,495.6 1021.4,498.9 1023.0,495.6 1024.8,493.6 1026.8,493.0 1028.4,497.0 1030.1,501.6 1031.8,508.9 1033.4,508.9 1035.0,504.9 1036.8,502.9 1038.1,493.0 1040.1,489.0 1041.4,498.3 1042.5,500.9 1043.4,497.0 1044.3,500.3 1045.7,499.3" fill="none" stroke="#1e90ff" stroke-width="1" shape-rendering="crispEdges"/>
<path d="M1310 45.5h2M1310 78.5h2M1310 111.5h2M1310 144.5h2M1310 177.5h2M1310 210.5h2M1310 243.5h2M1310 276.5h2M1310 309.5h2M1310 342.5h2M1310 375.5h2M1310 380.5h2M1310 422.5h2M1310 454.5h2M1310 456.5h2M1310 485.5h2M1310 523.5h2M1310 551.5h2M6.5 552V555M70.5 552V555M134.5 552V555M198.5 552V555M262.5 552V555M326.5 552V555M390.5 552V555M454.5 552V555M518.5 552V555M582.5 552V555M646.5 552V555M710.5 552V555M774.5 552V555M838.5 552V555M902.5 552V555M966.5 552V555M1030.5 552V555" stroke="#000" stroke-width="1" shape-rendering="crispEdges"/></svg>
<svg class="a" style="left:8px;top:37px" width="9" height="5"><path d="M0.5 4.5L4.5 0.5L8.5 4.5z" fill="#000"/></svg>
<div class="a" style="left:21px;top:34px;font-size:10px">USDCAD,H1</div>
<div class="a" style="left:84px;top:34px;font-size:10px;letter-spacing:-0.4px">1.35007 1.35007 1.34987 1.34996</div>
<div class="a" style="left:10px;top:385px;font-size:10px;letter-spacing:-0.3px">MACD(12,26,9) 0.000907 0.000947</div>
<div class="a" style="left:10px;top:461px;font-size:10px;letter-spacing:-0.3px">RSI(14) 55.1252</div>
<div class="a pl" style="top:41px">1.35340</div>
<div class="a pl" style="top:74px">1.34770</div>
<div class="a pl" style="top:107px">1.34200</div>
<div class="a pl" style="top:140px">1.33615</div>
<div class="a pl" style="top:173px">1.33045</div>
<div class="a pl" style="top:206px">1.32475</div>
<div class="a pl" style="top:239px">1.31890</div>
<div class="a pl" style="top:272px">1.31320</div>
<div class="a pl" style="top:305px">1.30750</div>
<div class="a pl" style="top:338px">1.30165</div>
<div class="a pl" style="top:371px">1.29595</div>
<div class="a" style="left:1311px;top:60px;width:41px;height:11px;background:#000"></div>
<div class="a pl" style="top:61px;color:#fff">1.34996</div>
<div class="a pl" style="top:383px;left:1312px">0.004083</div>
<div class="a pl" style="top:418px;left:1312px">0.00</div>
<div class="a pl" style="top:443px;left:1312px">-0.003262</div>
<div class="a pl" style="top:459px;left:1312px">100</div>
<div class="a pl" style="top:481px;left:1312px">70</div>
<div class="a pl" style="top:519px;left:1312px">30</div>
<div class="a pl" style="top:540px;left:1312px">0</div>
<div class="a tl" style="left:5px">18 Oct 2018</div>
<div class="a tl" style="left:69px">23 Oct 03:00</div>
<div class="a tl" style="left:133px">25 Oct 22:00</div>
<div class="a tl" style="left:197px">30 Oct 20:00</div>
<div class="a tl" style="left:261px">2 Nov 15:00</div>
<div class="a tl" style="left:325px">7 Nov 13:00</div>
<div class="a tl" style="left:389px">12 Nov 10:00</div>
<div class="a tl" style="left:453px">15 Nov 04:00</div>
<div class="a tl" style="left:517px">20 Nov 01:00</div>
<div class="a tl" style="left:581px">22 Nov 20:00</div>
<div class="a tl" style="left:645px">27 Nov 17:00</div>
<div class="a tl" style="left:709px">30 Nov 12:00</div>
<div class="a tl" style="left:773px">5 Dec 09:00</div>
<div class="a tl" style="left:837px">8 Dec 03:00</div>
<div class="a tl" style="left:901px">13 Dec 00:00</div>
<div class="a tl" style="left:965px">17 Dec 21:00</div>
<div class="a tl" style="left:1029px">20 Dec 16:00</div>
<div class="a" style="left:3px;top:572px;width:1349px;height:1px;background:#f0f0f0"></div>
<div class="a" style="left:0;top:574px;width:1352px;height:1px;background:#000"></div>
<div class="a" style="left:0;top:575px;width:1352px;height:19px;background:#f0f0f0"></div>
<div class="a" style="left:0;top:594px;width:1352px;height:4px;background:#fff"></div>
<div class="a" style="left:0;top:598px;width:1350px;height:1px;background:#a0a0a0"></div>
<div class="a" style="left:2px;top:575px;width:1px;height:18px;background:#696969"></div>
<div class="a" style="left:0px;top:575px;width:1px;height:18px;background:#a0a0a0"></div>
<div class="a" style="left:291px;top:574px;width:92px;height:19px;background:#fff;border:1px solid #000;border-top:none"></div>
<div class="a tab" style="left:19px">EURUSD,Daily</div>
<div class="a tab" style="left:121px">AUDUSD,H4</div>
<div class="a tab" style="left:213px">USDCHF,H4</div>
<div class="a tab" style="left:302px;color:#000">USDCAD,H1</div>
<div class="a tab" style="left:393px">USDCNH,H4</div>
<div class="a tab" style="left:485px">USDJPY,M15</div>
<div class="a tab" style="left:582px">XAUUSD,M5</div>
<div class="a tab" style="left:678px">GBPUSD,Weekly</div>
<div class="a tab" style="left:794px">SP500,H1</div>
<div class="sep" style="left:111px;top:578px;height:13px"></div>
<div class="sep" style="left:203px;top:578px;height:13px"></div>
<div class="sep" style="left:475px;top:578px;height:13px"></div>
<div class="sep" style="left:571px;top:578px;height:13px"></div>
<div class="sep" style="left:667px;top:578px;height:13px"></div>
<div class="sep" style="left:783px;top:578px;height:13px"></div>
<div class="sep" style="left:859px;top:578px;height:13px"></div>
<svg class="a" style="left:1318px;top:578px" width="30" height="12"><path d="M8 2V10L4 6z" fill="#a0a0a0"/><path d="M22 2V10L26 6z" fill="#a0a0a0"/></svg>
<div class="a" style="left:9px;top:74px;width:109px;height:40px;background:linear-gradient(#2e2ee8,#0000b0);border:1px solid #0000a0"></div>
<div class="a" style="left:120px;top:74px;width:108px;height:40px;background:linear-gradient(#2e2ee8,#0000b0);border:1px solid #0000a0"></div>
<div class="a" style="left:9px;top:50px;width:52px;height:25px;background:linear-gradient(#5858fc,#3434ea);border:1px solid #0000a0;border-bottom:none"></div>
<div class="a" style="left:176px;top:50px;width:52px;height:25px;background:linear-gradient(#5858fc,#3434ea);border:1px solid #0000a0;border-bottom:none"></div>
<div class="a" style="left:13px;top:74px;width:44px;height:1px;background:#8c8cff"></div>
<div class="a" style="left:180px;top:74px;width:44px;height:1px;background:#8c8cff"></div>
<div class="a" style="left:63px;top:50px;width:111px;height:22px;background:#fff;border:1px solid #a8a8a8"></div>
<div class="a" style="left:65px;top:52px;width:18px;height:18px;background:linear-gradient(#f2f2f2 0%,#ececec 45%,#dadada 50%,#d4d4d4 100%)"></div>
<div class="a" style="left:84px;top:51px;width:1px;height:20px;background:#a8a8a8"></div>
<div class="a" style="left:152px;top:51px;width:1px;height:20px;background:#a8a8a8"></div>
<div class="a" style="left:154px;top:52px;width:18px;height:18px;background:linear-gradient(#f2f2f2 0%,#ececec 45%,#dadada 50%,#d4d4d4 100%)"></div>
<svg class="a" style="left:70px;top:58px" width="8" height="5"><path d="M1 0.5H7L4 3.8z" fill="#4a62c8"/></svg>
<svg class="a" style="left:159px;top:58px" width="8" height="5"><path d="M1 4H7L4 0.7z" fill="#4a62c8"/></svg>
<div class="a" style="left:125px;top:54px;font-size:12.5px">0.50</div>
<div class="a" style="left:20px;top:55px;font-size:12px;letter-spacing:-0.4px;color:#e6e6ff">SELL</div>
<div class="a" style="left:188px;top:55px;font-size:12px;letter-spacing:-0.2px;color:#e6e6ff">BUY</div>
<div class="a" style="left:28px;top:93px;font-size:12.5px;font-weight:bold;color:#fff">1.34</div>
<div class="a" style="left:55px;top:73px;font-size:37px;letter-spacing:-1.8px;color:#fff">99</div>
<div class="a" style="left:95px;top:78px;font-size:12.5px;font-weight:bold;color:#fff">6</div>
<div class="a" style="left:138px;top:93px;font-size:12.5px;font-weight:bold;color:#fff">1.35</div>
<div class="a" style="left:166px;top:73px;font-size:37px;letter-spacing:-1.8px;color:#fff">02</div>
<div class="a" style="left:206px;top:78px;font-size:12.5px;font-weight:bold;color:#fff">4</div>

</body></html>
